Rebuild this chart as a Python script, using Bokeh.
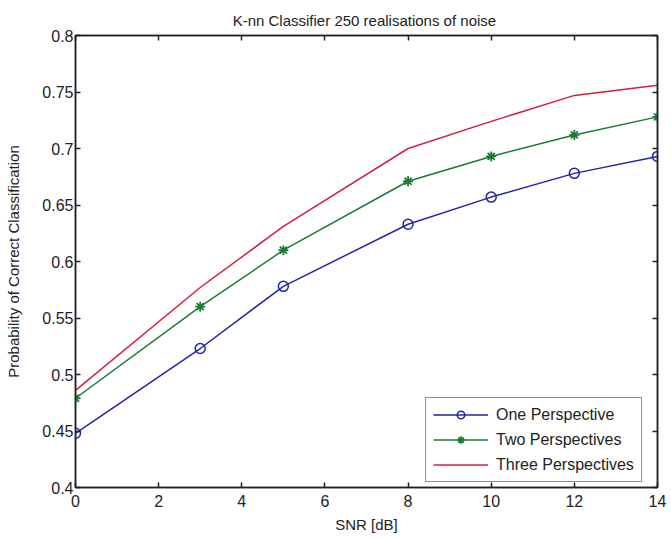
from bokeh.plotting import figure
from bokeh.models import (Legend, LegendItem, FixedTicker, LinearAxis, Range1d)
from bokeh.embed import file_html
from bokeh.resources import INLINE

# ---- data ----
snr = [0, 3, 5, 8, 10, 12, 14]
one_persp = [0.448, 0.523, 0.578, 0.633, 0.657, 0.678, 0.693]
two_persp = [0.479, 0.560, 0.610, 0.671, 0.693, 0.712, 0.728]
three_persp = [0.486, 0.577, 0.631, 0.700, 0.724, 0.747, 0.756]
series_names = ["One Perspective", "Two Perspectives", "Three Perspectives"]
x_ticks = [0, 2, 4, 6, 8, 10, 12, 14]
y_ticks = [0.4, 0.45, 0.5, 0.55, 0.6, 0.65, 0.7, 0.75, 0.8]
y_tick_labels = ["0.4", "0.45", "0.5", "0.55", "0.6", "0.65", "0.7", "0.75", "0.8"]
title_text = "K-nn Classifier 250 realisations  of noise"
x_label = "SNR [dB]"
y_label = "Probability of Correct Classification"

FONT = "Liberation Sans"
BLUE = "#2424a8"
GREEN = "#1c7a34"
RED = "#d42040"
INK = "#222222"

p = figure(width=671, height=539, output_backend="svg", toolbar_location=None,
           x_range=Range1d(0, 14), y_range=Range1d(0.4, 0.8),
           min_border_left=75, min_border_right=14, min_border_top=35,
           min_border_bottom=52)
p.background_fill_color = "white"
p.border_fill_color = "white"
p.grid.visible = False
p.outline_line_color = INK
p.outline_line_width = 1.5

p.title.text = title_text
p.title.align = "center"
p.title.text_font = FONT
p.title.text_font_size = "15px"
p.title.text_font_style = "normal"
p.title.text_color = INK
p.title.standoff = 13

def style_axis(ax):
    ax.axis_line_color = INK
    ax.axis_line_width = 1.5
    ax.major_tick_in = 5
    ax.major_tick_out = 0
    ax.minor_tick_in = 0
    ax.minor_tick_out = 0
    ax.major_tick_line_color = INK
    ax.major_tick_line_width = 1.5
    ax.major_label_text_font = FONT
    ax.major_label_text_font_size = "16px"
    ax.major_label_text_color = INK
    ax.axis_label_text_font = FONT
    ax.axis_label_text_font_size = "15px"
    ax.axis_label_text_font_style = "normal"
    ax.axis_label_text_color = INK

xa = p.xaxis[0]
xa.ticker = FixedTicker(ticks=x_ticks)
xa.axis_label = x_label
xa.axis_label_standoff = 6
xa.major_label_standoff = 7
style_axis(xa)

ya = p.yaxis[0]
ya.ticker = FixedTicker(ticks=y_ticks)
ya.major_label_overrides = dict(zip(y_ticks, y_tick_labels))
ya.axis_label = y_label
ya.axis_label_standoff = 17
ya.major_label_standoff = 2
style_axis(ya)

top_ax = LinearAxis(ticker=FixedTicker(ticks=x_ticks))
style_axis(top_ax)
top_ax.major_label_overrides = {t: "" for t in x_ticks}
p.add_layout(top_ax, "above")
right_ax = LinearAxis(ticker=FixedTicker(ticks=y_ticks))
style_axis(right_ax)
right_ax.major_label_overrides = {t: "" for t in y_ticks}
p.add_layout(right_ax, "right")

l1 = p.line(snr, one_persp, line_color=BLUE, line_width=1.5)
m1 = p.scatter(snr, one_persp, marker="circle", size=10, fill_color=None,
               line_color=BLUE, line_width=1.5)
l2 = p.line(snr, two_persp, line_color=GREEN, line_width=1.5)
m2 = p.scatter(snr, two_persp, marker="asterisk", size=10,
               line_color=GREEN, line_width=1.8)
l3 = p.line(snr, three_persp, line_color=RED, line_width=1.5)

legend = Legend(items=[
    LegendItem(label=series_names[0], renderers=[l1, m1]),
    LegendItem(label=series_names[1], renderers=[l2, m2]),
    LegendItem(label=series_names[2], renderers=[l3]),
], location=(350, 5))
legend.label_text_font = FONT
legend.label_text_font_size = "16px"
legend.label_text_color = INK
legend.border_line_color = INK
legend.border_line_width = 1.5
legend.glyph_width = 55
legend.glyph_height = 19
legend.spacing = 6
legend.padding = 7
legend.margin = 0
legend.label_standoff = 8
legend.label_height = 19
legend.background_fill_alpha = 1.0
p.add_layout(legend, "center")

open("out.html", "w").write(file_html(p, INLINE))
